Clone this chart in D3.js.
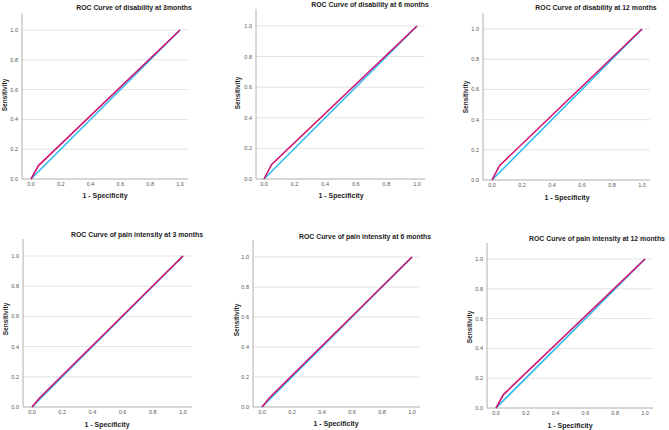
<!DOCTYPE html>
<html lang="en">
<head>
    <meta charset="UTF-8">
    <title>ROC Curves</title>
    <script src="https://d3js.org/d3.v7.min.js"></script>
    <style>
        body {
            margin: 0;
            padding: 0;
            background-color: #ffffff;
        }
        svg text {
            font-family: 'Liberation Sans', Arial, sans-serif;
        }
        .title, .axis-title {
            font-weight: bold;
            fill: #222;
        }
        .tick-label {
            fill: #555;
            font-size: 5.5px;
        }
    </style>
</head>
<body>
<svg id="chart" width="669" height="430"></svg>

<script>
    // chart titles, one per panel
    const titles = [
        "ROC Curve of disability at 3months",
        "ROC Curve of disability at 6 months",
        "ROC Curve of disability at 12 months",
        "ROC Curve of pain intensity at 3 months",
        "ROC Curve of pain intensity at 6 months",
        "ROC Curve of pain intensity at 12 months"
    ];

    const tickValues = [0, 0.2, 0.4, 0.6, 0.8, 1.0];

    // reference (diagonal) line
    const referenceLine = [[0, 0], [1, 1]];

    // ROC curves: [1 - specificity, sensitivity]
    const rocDisability3 = [[0, 0], [0.05, 0.09], [1, 1]];
    const rocDisability6 = [[0, 0], [0.05, 0.095], [1, 1]];
    const rocDisability12 = [[0, 0], [0.05, 0.095], [1, 1]];
    const rocPain3 = [[0, 0], [0.05, 0.06], [1, 1]];
    const rocPain6 = [[0, 0], [0.05, 0.062], [1, 1]];
    const rocPain12 = [[0, 0], [0.05, 0.09], [1, 1]];

    const rocCurves = [rocDisability3, rocDisability6, rocDisability12, rocPain3, rocPain6, rocPain12];

    // panel frames (pixels): y-axis x, x range for 0..1, y range for 0..1, axis extents, label spots
    const frames = [
        {ax: 22,  x0: 31,  x1: 180, y0: 179, y1: 30,  right: 188, top: 13,  tx: 134, ty: 10,  lx: 105, ly: 198, sx: 7,   sy: 95},
        {ax: 256, x0: 264, x1: 417, y0: 179, y1: 26,  right: 425, top: 9,   tx: 370, ty: 7,   lx: 341, ly: 198, sx: 240, sy: 93},
        {ax: 483, x0: 492, x1: 642, y0: 180, y1: 29,  right: 650, top: 13,  tx: 596, ty: 10,  lx: 567, ly: 200, sx: 468, sy: 97},
        {ax: 23,  x0: 32,  x1: 183, y0: 407, y1: 256, right: 192, top: 239, tx: 137, ty: 237, lx: 107, ly: 427, sx: 8,   sy: 319},
        {ax: 253, x0: 262, x1: 412, y0: 407, y1: 257, right: 420, top: 240, tx: 365, ty: 239, lx: 336, ly: 426, sx: 239, sy: 320},
        {ax: 487, x0: 496, x1: 645, y0: 408, y1: 259, right: 653, top: 243, tx: 597, ty: 241, lx: 570, ly: 428, sx: 472, sy: 327}
    ];

    const svg = d3.select("#chart");

    frames.forEach(function (f, i) {
        const x = d3.scaleLinear().domain([0, 1]).range([f.x0, f.x1]);
        const y = d3.scaleLinear().domain([0, 1]).range([f.y0, f.y1]);
        const g = svg.append("g");

        // grid lines
        g.selectAll(".grid")
            .data(tickValues.filter(d => d > 0))
            .enter().append("line")
            .attr("x1", f.ax).attr("x2", f.right)
            .attr("y1", d => y(d)).attr("y2", d => y(d))
            .attr("stroke", "#dcdcdc")
            .attr("stroke-width", 0.8);

        // axis lines
        g.append("line")
            .attr("x1", f.ax).attr("x2", f.ax)
            .attr("y1", f.top).attr("y2", f.y0)
            .attr("stroke", "#999").attr("stroke-width", 0.8);
        g.append("line")
            .attr("x1", f.ax).attr("x2", f.right)
            .attr("y1", f.y0).attr("y2", f.y0)
            .attr("stroke", "#999").attr("stroke-width", 0.8);

        // tick labels
        g.selectAll(".ytick")
            .data(tickValues)
            .enter().append("text")
            .attr("class", "tick-label")
            .attr("x", f.ax - 4)
            .attr("y", d => y(d) + 2)
            .attr("text-anchor", "end")
            .text(d3.format(".1f"));
        g.selectAll(".xtick")
            .data(tickValues)
            .enter().append("text")
            .attr("class", "tick-label")
            .attr("x", d => x(d))
            .attr("y", f.y0 + 7)
            .attr("text-anchor", "middle")
            .text(d3.format(".1f"));

        // titles
        g.append("text")
            .attr("class", "title")
            .attr("x", f.tx).attr("y", f.ty)
            .attr("text-anchor", "middle")
            .style("font-size", "6.9px")
            .text(titles[i]);
        g.append("text")
            .attr("class", "axis-title")
            .attr("x", f.lx).attr("y", f.ly)
            .attr("text-anchor", "middle")
            .style("font-size", "7px")
            .text("1 - Specificity");
        g.append("text")
            .attr("class", "axis-title")
            .attr("transform", "translate(" + f.sx + "," + f.sy + ") rotate(-90)")
            .attr("text-anchor", "middle")
            .style("font-size", "6.5px")
            .text("Sensitivity");

        const line = d3.line().x(d => x(d[0])).y(d => y(d[1]));

        g.append("path")
            .datum(referenceLine)
            .attr("d", line)
            .attr("fill", "none")
            .attr("stroke", "#2ebcf0")
            .attr("stroke-width", 1.6);

        g.append("path")
            .datum(rocCurves[i])
            .attr("d", line)
            .attr("fill", "none")
            .attr("stroke", "#d0146f")
            .attr("stroke-width", 1.6);
    });
</script>
</body>
</html>
